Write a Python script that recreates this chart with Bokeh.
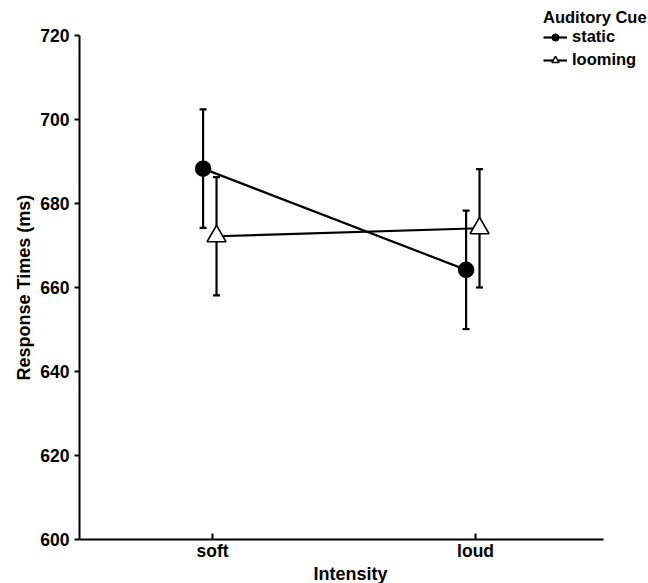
from bokeh.plotting import figure
from bokeh.models import (ColumnDataSource, Whisker, TeeHead, Legend, LegendItem,
                          FixedTicker, Range1d, Title)
from bokeh.embed import file_html
from bokeh.resources import INLINE

categories = ["soft", "loud"]
cat_pos = [1, 2]
static_mean = [688.3, 664.2]
static_err = [14.1, 14.1]
looming_mean = [672.2, 674.1]
looming_err = [14.1, 14.1]
static_offset = -0.036
looming_offset = 0.015
y_ticks = [600, 620, 640, 660, 680, 700, 720]

FONT = "Liberation Sans"
LW = 2.2
NAN = float("nan")

p = figure(width=648, height=583, output_backend="svg", toolbar_location=None,
           frame_width=569, frame_height=539,
           x_range=Range1d(0.494, 2.6575), y_range=Range1d(600, 728.33),
           min_border_left=79, min_border_top=0, min_border_bottom=44,
           min_border_right=0)
p.outline_line_color = None
p.xgrid.visible = False
p.ygrid.visible = False
p.background_fill_color = "white"
p.border_fill_color = "white"

src_s = ColumnDataSource(dict(x=[c + static_offset for c in cat_pos], y=static_mean,
                              lo=[m - e for m, e in zip(static_mean, static_err)],
                              hi=[m + e for m, e in zip(static_mean, static_err)]))
src_l = ColumnDataSource(dict(x=[c + looming_offset for c in cat_pos], y=looming_mean,
                              lo=[m - e for m, e in zip(looming_mean, looming_err)],
                              hi=[m + e for m, e in zip(looming_mean, looming_err)]))

for src in (src_s, src_l):
    w = Whisker(source=src, base="x", upper="hi", lower="lo", dimension="height",
                line_width=LW, line_color="black",
                upper_head=TeeHead(size=7, line_width=LW, line_color="black"),
                lower_head=TeeHead(size=7, line_width=LW, line_color="black"))
    p.add_layout(w)

p.line("x", "y", source=src_s, line_width=LW, line_color="black")
p.line("x", "y", source=src_l, line_width=LW, line_color="black")
p.scatter("x", "y", source=src_s, marker="circle", size=15,
          fill_color="black", line_color="black", line_width=1.5)
p.scatter("x", "y", source=src_l, marker="triangle", size=19,
          fill_color="white", line_color="black", line_width=1.6)

# legend-only glyphs (no visible data, smaller markers as in the reference key)
lg_ls = p.line(x=[NAN], y=[NAN], line_width=LW, line_color="black")
lg_ms = p.scatter(x=[NAN], y=[NAN], marker="circle", size=9, fill_color="black",
                  line_color="black")
lg_ll = p.line(x=[NAN], y=[NAN], line_width=LW, line_color="black")
lg_ml = p.scatter(x=[NAN], y=[NAN], marker="triangle", size=12, fill_color="white",
                  line_color="black", line_width=1.5)

# axes
p.xaxis.ticker = FixedTicker(ticks=cat_pos)
p.xaxis.major_label_overrides = {c: l for c, l in zip(cat_pos, categories)}
p.yaxis.ticker = FixedTicker(ticks=y_ticks)
p.xaxis.bounds = (0.494, 2.487)
p.yaxis.bounds = (600, 720)
for ax in (p.xaxis[0], p.yaxis[0]):
    ax.axis_line_width = 2
    ax.axis_line_color = "black"
    ax.major_tick_line_width = 2
    ax.major_tick_line_color = "black"
    ax.minor_tick_line_color = None
    ax.major_label_text_font = FONT
    ax.major_label_text_font_style = "bold"
    ax.major_label_text_font_size = "17.5px"
    ax.major_label_text_color = "black"
p.xaxis.major_tick_in = 6
p.xaxis.major_tick_out = 0
p.yaxis.major_tick_in = 0
p.yaxis.major_tick_out = 5
p.xaxis.major_label_standoff = 1
p.yaxis.major_label_standoff = 5

# axis titles (placed as titles so they sit where the reference has them)
p.add_layout(Title(text="Intensity", align="left", offset=234, standoff=0,
                   vertical_align="top",
                   text_font=FONT, text_font_style="bold", text_font_size="18px",
                   text_color="black"), "below")
p.add_layout(Title(text="Response Times (ms)", align="left", offset=159, standoff=8,
                   text_font=FONT, text_font_style="bold", text_font_size="18px",
                   text_color="black"), "left")

legend = Legend(items=[LegendItem(label="static", renderers=[lg_ls, lg_ms]),
                       LegendItem(label="looming", renderers=[lg_ll, lg_ml])],
                location=(464, 470), title="Auditory Cue",
                title_text_font=FONT, title_text_font_style="bold",
                title_text_font_size="16.5px", title_standoff=0,
                title_text_color="black",
                label_text_font=FONT, label_text_font_style="bold",
                label_text_font_size="16.5px", label_text_color="black",
                glyph_width=24, glyph_height=18, label_height=18,
                spacing=4, padding=0, margin=0, label_standoff=5,
                background_fill_alpha=0, border_line_color=None)
p.add_layout(legend, "center")

open("out.html", "w").write(file_html(p, INLINE))
